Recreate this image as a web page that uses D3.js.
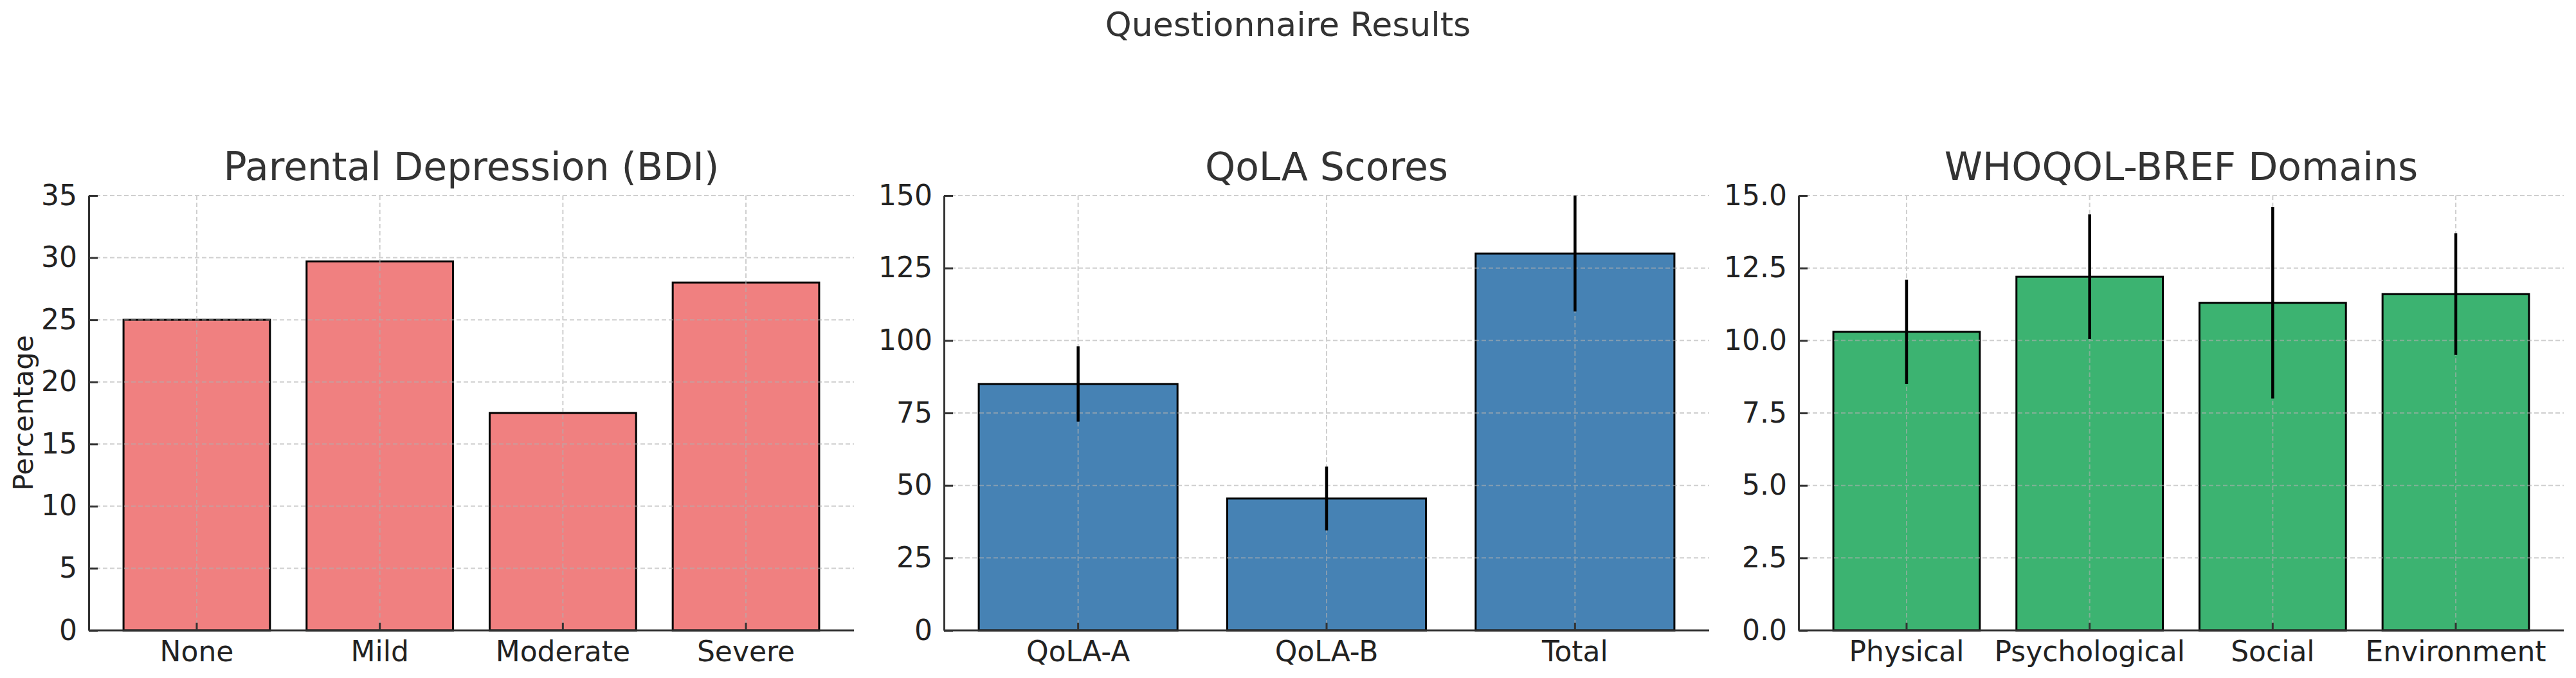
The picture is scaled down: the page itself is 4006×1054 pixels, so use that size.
<!DOCTYPE html>
<html>
<head>
<meta charset="utf-8">
<script src="https://cdn.jsdelivr.net/npm/d3@7"></script>
<style>
  body { margin: 0; background: white; }
  text { font-family: "DejaVu Sans", sans-serif; }
</style>
</head>
<body>
<div id="container"></div>
<script>
// size of the picture
let w = 4006;
let h = 1054;

// data
let bdiCategories = ["None", "Mild", "Moderate", "Severe"];
let bdiValues = [25, 29.7, 17.5, 28];
let bdiTicks = [0, 5, 10, 15, 20, 25, 30, 35];

let qolaCategories = ["QoLA-A", "QoLA-B", "Total"];
let qolaValues = [85, 45.5, 130];
let qolaErrors = [13, 11, 20];
let qolaTicks = [0, 25, 50, 75, 100, 125, 150];

let whoCategories = ["Physical", "Psychological", "Social", "Environment"];
let whoValues = [10.3, 12.2, 11.3, 11.6];
let whoErrors = [1.8, 2.15, 3.3, 2.1];
let whoTicks = [0, 2.5, 5, 7.5, 10, 12.5, 15];

let plotTop = 304;
let plotBottom = 980;
let panelWidth = 1190;

let viz = d3.select("#container")
  .append("svg")
    .attr("width", w)
    .attr("height", h)
    .style("background-color", "white");

viz.append("text")
  .attr("x", w / 2)
  .attr("y", 56)
  .attr("text-anchor", "middle")
  .attr("font-size", 52)
  .attr("fill", "#333")
  .text("Questionnaire Results");

function drawPanel(opt) {
  let g = viz.append("g").attr("transform", "translate(" + opt.left + ",0)");
  let n = opt.categories.length;

  // matplotlib-like bar layout: width 0.8, 5% margins
  let xScale = d3.scaleBand()
    .domain(opt.categories)
    .range([0, panelWidth])
    .paddingInner(0.2)
    .paddingOuter(0.05 * (n - 0.2));
  let yScale = d3.scaleLinear().domain(opt.yDomain).range([plotBottom, plotTop]);

  let rows = opt.categories.map(function(c, i) {
    return { cat: c, value: opt.values[i], err: opt.errors ? opt.errors[i] : null };
  });

  g.selectAll(".bar").data(rows).enter()
    .append("rect")
      .attr("class", "bar")
      .attr("x", d => xScale(d.cat))
      .attr("y", d => yScale(d.value))
      .attr("width", xScale.bandwidth())
      .attr("height", d => plotBottom - yScale(d.value))
      .attr("fill", opt.color)
      .attr("stroke", "black")
      .attr("stroke-width", 3);

  // grid on top of bars, like the reference
  let grid = g.append("g").attr("opacity", 0.6);
  grid.selectAll(".hgrid").data(opt.ticks).enter()
    .append("line")
      .attr("x1", 0)
      .attr("x2", panelWidth)
      .attr("y1", d => yScale(d))
      .attr("y2", d => yScale(d))
      .attr("stroke", "#b0b0b0")
      .attr("stroke-width", 2)
      .attr("stroke-dasharray", "7,4");
  grid.selectAll(".vgrid").data(opt.categories).enter()
    .append("line")
      .attr("x1", d => xScale(d) + xScale.bandwidth() / 2)
      .attr("x2", d => xScale(d) + xScale.bandwidth() / 2)
      .attr("y1", plotTop)
      .attr("y2", plotBottom)
      .attr("stroke", "#b0b0b0")
      .attr("stroke-width", 2)
      .attr("stroke-dasharray", "7,4");

  if (opt.errors) {
    g.selectAll(".err").data(rows).enter()
      .append("line")
        .attr("x1", d => xScale(d.cat) + xScale.bandwidth() / 2)
        .attr("x2", d => xScale(d.cat) + xScale.bandwidth() / 2)
        .attr("y1", d => yScale(d.value + d.err))
        .attr("y2", d => yScale(d.value - d.err))
        .attr("stroke", "black")
        .attr("stroke-width", 4.5);
  }

  let yAxis = d3.axisLeft(yScale)
    .tickValues(opt.ticks)
    .tickFormat(opt.format)
    .tickSizeInner(-14)
    .tickSizeOuter(0)
    .tickPadding(18);
  let yg = g.append("g").call(yAxis);

  let xAxis = d3.axisBottom(xScale)
    .tickSizeInner(-12)
    .tickSizeOuter(0)
    .tickPadding(17);
  let xg = g.append("g").attr("transform", "translate(0," + plotBottom + ")").call(xAxis);
  // bottom spine runs the full width
  xg.select(".domain").remove();
  xg.append("line")
    .attr("x1", 0).attr("x2", panelWidth)
    .attr("stroke", "#333").attr("stroke-width", 3);

  [yg, xg].forEach(function(ax) {
    ax.selectAll("text")
      .attr("font-size", 44)
      .attr("fill", "#222")
      .style("font-family", "DejaVu Sans");
    ax.selectAll(".tick line").attr("stroke", "#333").attr("stroke-width", 3);
  });
  yg.select(".domain").attr("stroke", "#333").attr("stroke-width", 3);

  g.append("text")
    .attr("x", panelWidth / 2)
    .attr("y", 280)
    .attr("text-anchor", "middle")
    .attr("font-size", 60)
    .attr("fill", "#333")
    .text(opt.title);

  if (opt.ylabel) {
    g.append("text")
      .attr("transform", "translate(" + (51 - opt.left) + "," + ((plotTop + plotBottom) / 2) + ") rotate(-90)")
      .attr("text-anchor", "middle")
      .attr("font-size", 43)
      .attr("fill", "#222")
      .text(opt.ylabel);
  }
}

drawPanel({
  left: 138, title: "Parental Depression (BDI)", ylabel: "Percentage",
  categories: bdiCategories, values: bdiValues, errors: null,
  ticks: bdiTicks, yDomain: [0, 35], format: d3.format("d"), color: "#f08080"
});
drawPanel({
  left: 1468, title: "QoLA Scores",
  categories: qolaCategories, values: qolaValues, errors: qolaErrors,
  ticks: qolaTicks, yDomain: [0, 150], format: d3.format("d"), color: "#4682b4"
});
drawPanel({
  left: 2797, title: "WHOQOL-BREF Domains",
  categories: whoCategories, values: whoValues, errors: whoErrors,
  ticks: whoTicks, yDomain: [0, 15], format: d3.format(".1f"), color: "#3cb371"
});
</script>
</body>
</html>
